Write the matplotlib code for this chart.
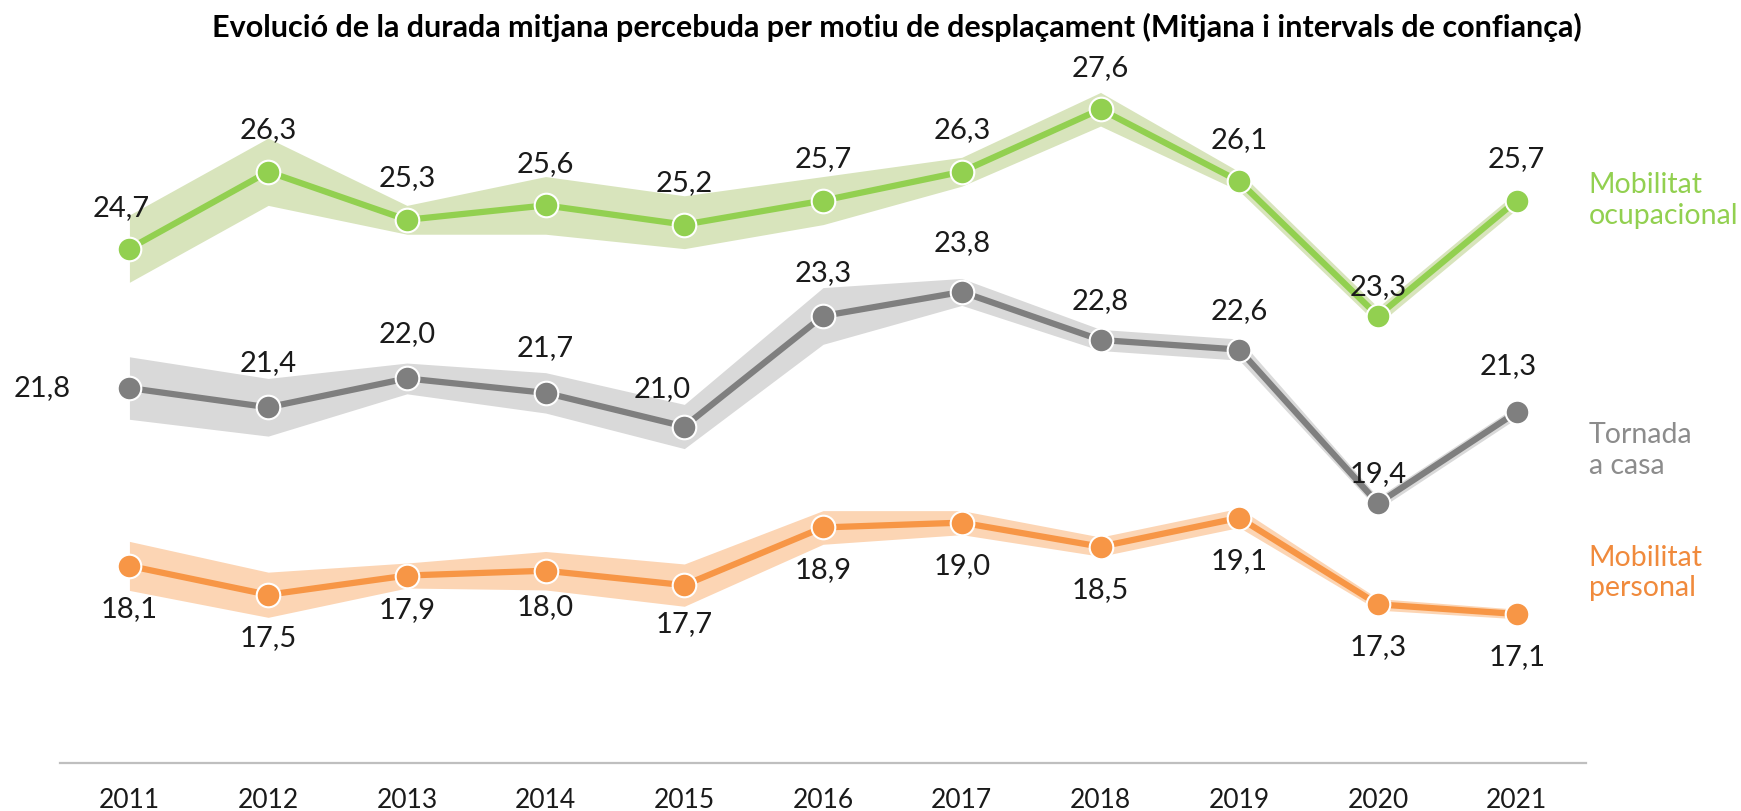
import matplotlib.pyplot as plt
from matplotlib import font_manager

years = [2011, 2012, 2013, 2014, 2015, 2016, 2017, 2018, 2019, 2020, 2021]

ocupacional = [24.7, 26.3, 25.3, 25.6, 25.2, 25.7, 26.3, 27.6, 26.1, 23.3, 25.7]
ocupacional_low = [24.0, 25.6, 25.0, 25.0, 24.7, 25.2, 26.0, 27.25, 25.9, 23.12, 25.52]
ocupacional_high = [25.4, 27.0, 25.6, 26.2, 25.8, 26.2, 26.6, 27.95, 26.3, 23.48, 25.88]

tornada = [21.8, 21.4, 22.0, 21.7, 21.0, 23.3, 23.8, 22.8, 22.6, 19.4, 21.3]
tornada_low = [21.15, 20.8, 21.68, 21.28, 20.54, 22.71, 23.52, 22.58, 22.38, 19.27, 21.17]
tornada_high = [22.45, 22.0, 22.32, 22.12, 21.46, 23.89, 24.08, 23.02, 22.82, 19.53, 21.43]

personal = [18.1, 17.5, 17.9, 18.0, 17.7, 18.9, 19.0, 18.5, 19.1, 17.3, 17.1]
personal_low = [17.59, 17.03, 17.64, 17.6, 17.26, 18.55, 18.75, 18.3, 18.9, 17.18, 17.0]
personal_high = [18.61, 17.97, 18.16, 18.4, 18.14, 19.25, 19.25, 18.7, 19.3, 17.42, 17.2]

title = "Evolució de la durada mitjana percebuda per motiu de desplaçament (Mitjana i intervals de confiança)"

names = {f.name for f in font_manager.fontManager.ttflist}
title_font = "Liberation Sans Narrow" if "Liberation Sans Narrow" in names else "Lato"
plt.rcParams['font.family'] = ['Lato', 'DejaVu Sans']

fig = plt.figure(figsize=(17.41, 8.11), dpi=100)
ax = fig.add_axes([0.0345, 0.0592, 0.8765, 0.8298])

series = [
    (ocupacional, ocupacional_low, ocupacional_high, "#92D050", "#D8E4BC", "#92D050",
     "Mobilitat\nocupacional", 25.7, (0, 30), {9: (0, 21), 0: (-6, 29)}),
    (tornada, tornada_low, tornada_high, "#7F7F7F", "#D9D9D9", "#8C8C8C",
     "Tornada\na casa", 20.5, (0, 32), {0: (-63, 0), 4: (-16, 27), 9: (0, 21), 5: (0, 31), 6: (0, 35), 7: (0, 28), 8: (0, 28), 10: (-6, 33)}),
    (personal, personal_low, personal_high, "#F79646", "#FCD5B4", "#F08A3C",
     "Mobilitat\npersonal", 17.95, (0, -31), {2: (0, -25), 3: (0, -26), 4: (0, -28)}),
]

for vals, low, high, col, band, tcol, name, name_y, off, special in series:
    ax.fill_between(years, low, high, color=band, lw=0, zorder=1)
    ax.plot(years, vals, color=col, lw=4.5, marker='o', markersize=17,
            markerfacecolor=col, markeredgecolor='white', markeredgewidth=1.5,
            zorder=3, solid_joinstyle='miter')
    for i, (x, v) in enumerate(zip(years, vals)):
        dx, dy = special.get(i, off)
        ax.annotate(f"{v:.1f}".replace('.', ','), (x, v), xytext=(dx, dy),
                    textcoords='offset points', ha='center', va='center',
                    fontsize=21, color='#1a1a1a', annotation_clip=False)
    ax.text(2021.52, name_y, name, color=tcol, fontsize=20.5, ha='left',
            va='center', linespacing=1.2, clip_on=False)

ax.set_xlim(2010.5, 2021.5)
ax.set_ylim(14, 28)
ax.set_xticks(years)
ax.set_xticklabels([str(y) for y in years], fontsize=19, color='#1a1a1a')
ax.tick_params(axis='x', length=0, pad=18)
ax.set_yticks([])
for s in ['left', 'right', 'top']:
    ax.spines[s].set_visible(False)
ax.spines['bottom'].set_color('#BFBFBF')
ax.spines['bottom'].set_linewidth(1.6)

fig.text(0.515, 0.966, title, ha='center', va='center', fontsize=22,
         fontweight='bold', family=[title_font, 'DejaVu Sans'], color='black')

fig.savefig("out.png", dpi=100)
